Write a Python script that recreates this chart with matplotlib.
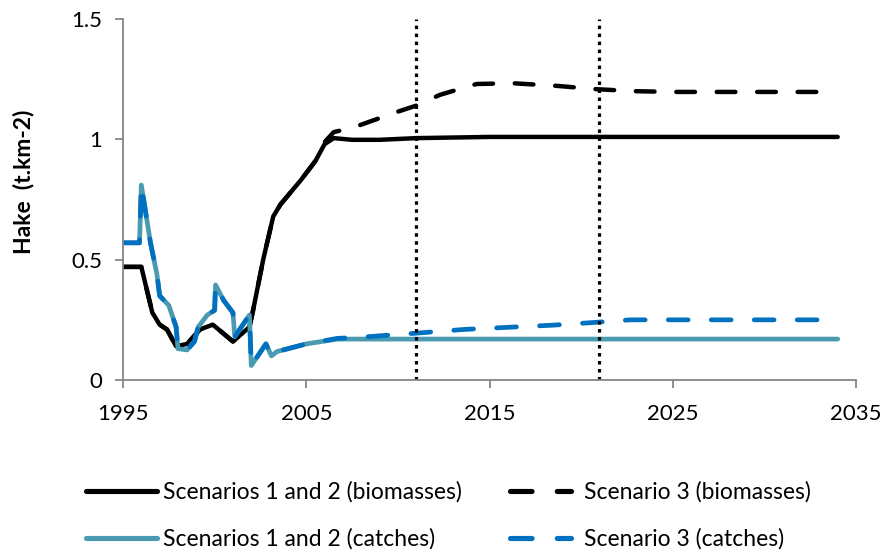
import matplotlib
matplotlib.use("Agg")
import matplotlib.pyplot as plt

# ---- data ----
bio12_year = [1995.0, 1996.0, 1996.6, 1997.0, 1997.4, 1997.9, 1998.5, 1999.2, 1999.9, 2001.0,
              2001.9, 2002.1, 2002.65, 2003.2, 2003.6, 2004.7, 2005.5, 2006.0, 2006.5, 2007.5,
              2009.0, 2011.0, 2015.0, 2034.0]
bio12_val = [0.47, 0.47, 0.28, 0.23, 0.21, 0.14, 0.15, 0.21, 0.23, 0.16,
             0.22, 0.29, 0.50, 0.68, 0.73, 0.83, 0.91, 0.98, 1.005, 0.998,
             0.998, 1.005, 1.01, 1.01]

bio3_year = [1995.0, 1996.0, 1996.6, 1997.0, 1997.4, 1997.9, 1998.5, 1999.2, 1999.9, 2001.0,
             2001.9, 2002.1, 2002.65, 2003.2, 2003.6, 2004.7, 2005.5, 2005.9, 2006.5, 2007.6,
             2008.7, 2010.0, 2011.0, 2012.3, 2014.3, 2016.3, 2018.7, 2020.9, 2023.0, 2025.0, 2034.0]
bio3_val = [0.47, 0.47, 0.28, 0.23, 0.21, 0.14, 0.15, 0.21, 0.23, 0.16,
            0.22, 0.29, 0.50, 0.68, 0.73, 0.83, 0.91, 0.98, 1.03, 1.05,
            1.08, 1.115, 1.14, 1.185, 1.23, 1.233, 1.222, 1.208, 1.20, 1.197, 1.197]

catch12_year = [1995.0, 1995.9, 1996.0, 1996.5, 1996.85, 1997.0, 1997.5, 1997.9, 1998.0, 1998.5,
                1998.9, 1999.1, 1999.6, 2000.0, 2000.05, 2000.5, 2001.0, 2001.1, 2001.9, 2002.0,
                2002.8, 2003.1, 2003.4, 2005.0, 2006.7, 2034.0]
catch12_val = [0.57, 0.57, 0.81, 0.57, 0.44, 0.35, 0.31, 0.22, 0.13, 0.125,
               0.16, 0.22, 0.27, 0.29, 0.395, 0.33, 0.28, 0.18, 0.27, 0.06,
               0.15, 0.10, 0.118, 0.15, 0.17, 0.17]

catch3_year = [1995.0, 1995.9, 1996.0, 1996.5, 1996.85, 1997.0, 1997.5, 1997.9, 1998.0, 1998.5,
               1998.9, 1999.1, 1999.6, 2000.0, 2000.05, 2000.5, 2001.0, 2001.1, 2001.9, 2002.0,
               2002.8, 2003.1, 2003.4, 2005.0, 2006.7, 2008.0, 2010.9, 2013.6, 2016.3, 2018.5,
               2020.5, 2022.7, 2034.0]
catch3_val = [0.57, 0.57, 0.81, 0.57, 0.44, 0.35, 0.31, 0.22, 0.13, 0.125,
              0.16, 0.22, 0.27, 0.29, 0.395, 0.33, 0.28, 0.18, 0.27, 0.06,
              0.15, 0.10, 0.118, 0.15, 0.173, 0.178, 0.194, 0.21, 0.22, 0.228,
              0.238, 0.25, 0.25]

vline_years = [2011, 2021]
x_ticks = [1995, 2005, 2015, 2025, 2035]
y_ticks = [0, 0.5, 1, 1.5]
y_ticklabels = ["0", "0.5", "1", "1.5"]

labels = ["Scenarios 1 and 2 (biomasses)", "Scenario 3 (biomasses)",
          "Scenarios 1 and 2 (catches)", "Scenario 3 (catches)"]
y_title = "Hake  (t.km-2)"

# ---- style ----
plt.rcParams['font.family'] = ['Lato', 'DejaVu Sans']
BLACK = "#000000"
TEAL = "#4A9BB2"
BLUE = "#0070C0"
GRAY = "#868686"
W, H = 885, 555

fig = plt.figure(figsize=(W / 100, H / 100), dpi=100)
ax = fig.add_axes([123 / W, 1 - 380 / H, (856 - 123) / W, (380 - 19) / H])

LW = 3.2
DASH = (4.2, 4.9)
l1, = ax.plot(bio12_year, bio12_val, color=BLACK, lw=LW, solid_capstyle='round', solid_joinstyle='round')
l2, = ax.plot(bio3_year, bio3_val, color=BLACK, lw=LW, dashes=DASH, dash_capstyle='round')
l3, = ax.plot(catch12_year, catch12_val, color=TEAL, lw=LW + 0.2, solid_capstyle='round', solid_joinstyle='round')
l4, = ax.plot(catch3_year, catch3_val, color=BLUE, lw=LW + 0.2, dashes=DASH, dash_capstyle='round')

for v in vline_years:
    ax.plot([v, v], [0, 1.5], color=BLACK, lw=2.3, dashes=(1.1, 1.4), dash_capstyle='butt')

ax.set_xlim(1995, 2035)
ax.set_ylim(0, 1.5)
ax.set_xticks(x_ticks)
ax.set_xticklabels([str(t) for t in x_ticks], fontsize=16)
ax.set_yticks(y_ticks)
ax.set_yticklabels(y_ticklabels, fontsize=16)
for s in ['top', 'right']:
    ax.spines[s].set_visible(False)
for s in ['left', 'bottom']:
    ax.spines[s].set_color(GRAY)
    ax.spines[s].set_linewidth(1.3)
ax.tick_params(axis='both', colors=GRAY, labelcolor='#000000', length=6, width=1.3, direction='out')
ax.tick_params(axis='x', pad=11)
ax.tick_params(axis='y', pad=9)

fig.text(23 / W, 1 - 182 / H, y_title, rotation=90, ha='center', va='center',
         fontsize=16.5, fontweight='bold')

# legend: one single-entry legend per slot
FS = 16.5
slots = [
    (l1, labels[0], 86, 492, 3.1, 0.25),
    (l2, labels[1], 510, 492, 2.65, 0.6),
    (l3, labels[2], 86, 539, 3.1, 0.25),
    (l4, labels[3], 510, 539, 2.65, 0.6),
]
for h, lab, x, y, hl, tp in slots:
    lg = fig.legend([h], [lab], loc='center left', bbox_to_anchor=(x / W, 1 - y / H),
                    frameon=False, fontsize=FS, handlelength=hl, handletextpad=tp,
                    borderpad=0, borderaxespad=0)
    for line in lg.get_lines():
        line.set_linewidth(3.7)

fig.savefig("out.png", dpi=100)
